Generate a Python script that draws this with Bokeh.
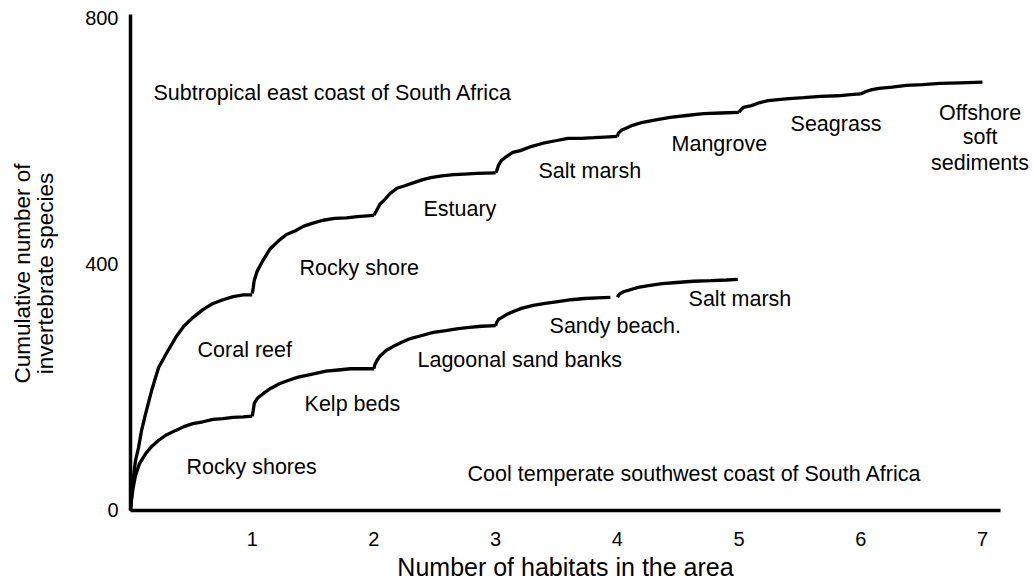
import math
from bokeh.plotting import figure
from bokeh.models import ColumnDataSource, Range1d, FixedTicker
from bokeh.core.properties import value
from bokeh.embed import file_html
from bokeh.resources import INLINE

# ---------------- data ----------------
habitat_ticks = [1, 2, 3, 4, 5, 6, 7]
species_ticks = [0, 400, 800]

x_title = "Number of habitats in the area"
y_title = ["Cumulative number of", "invertebrate species"]
east_title = "Subtropical east coast of South Africa"
west_title = "Cool temperate southwest coast of South Africa"
east_habitats = ["Coral reef", "Rocky shore", "Estuary", "Salt marsh",
                 "Mangrove", "Seagrass", "Offshore soft sediments"]
west_habitats = ["Rocky shores", "Kelp beds", "Lagoonal sand banks",
                 "Sandy beach.", "Salt marsh"]

# cumulative species curves, one list per added habitat
east_x = [
    [0, 0.008, 0.021, 0.041, 0.066, 0.091, 0.124, 0.174, 0.231, 0.298, 0.372,
     0.438, 0.512, 0.595, 0.678, 0.76, 0.843, 0.926, 1.0],
    [1.0, 1.008, 1.016, 1.04, 1.089, 1.145, 1.218, 1.282, 1.355, 1.419, 1.492,
     1.581, 1.677, 1.774, 1.863, 2.0],
    [2.0, 2.025, 2.049, 2.082, 2.131, 2.189, 2.254, 2.328, 2.402, 2.467, 2.557,
     2.656, 2.746, 2.844, 3.0],
    [3.0, 3.008, 3.023, 3.047, 3.086, 3.141, 3.203, 3.297, 3.391, 3.492, 3.594,
     3.703, 3.805, 3.898, 4.0],
    [4.0, 4.008, 4.033, 4.067, 4.125, 4.208, 4.317, 4.433, 4.567, 4.708, 4.85,
     5.0],
    [5.0, 5.009, 5.034, 5.103, 5.171, 5.239, 5.385, 5.53, 5.667, 5.812, 5.915,
     6.0],
    [6.0, 6.042, 6.092, 6.15, 6.258, 6.375, 6.508, 6.65, 6.817, 7.0],
]
east_y = [
    [0, 21, 49, 81, 102, 130, 157, 195, 232, 256, 281, 299, 313, 326, 336,
     342, 347, 350, 350],
    [352, 361, 373, 388, 406, 424, 438, 448, 454, 461, 466, 471, 474, 475,
     477, 479],
    [479, 488, 497, 503, 514, 523, 527, 532, 537, 540, 543, 545, 546, 547,
     548],
    [548, 551, 560, 568, 574, 581, 584, 591, 596, 600, 604, 604, 605, 606,
     607],
    [607, 612, 617, 620, 625, 630, 634, 638, 641, 644, 645, 646],
    [646, 649, 654, 657, 662, 665, 668, 670, 672, 673, 675, 676],
    [676, 680, 683, 685, 687, 690, 691, 693, 694, 695],
]
west_x = [
    [0, 0.008, 0.021, 0.041, 0.074, 0.124, 0.174, 0.231, 0.298, 0.372, 0.438,
     0.512, 0.595, 0.678, 0.76, 0.843, 0.926, 1.0],
    [1.0, 1.008, 1.017, 1.042, 1.092, 1.151, 1.227, 1.294, 1.37, 1.437, 1.513,
     1.605, 1.706, 1.807, 1.899, 2.0],
    [2.0, 2.008, 2.024, 2.047, 2.102, 2.157, 2.228, 2.299, 2.394, 2.488, 2.591,
     2.693, 2.787, 2.882, 3.0],
    [3.0, 3.008, 3.024, 3.049, 3.089, 3.146, 3.211, 3.309, 3.407, 3.512,
     3.618, 3.732, 3.837, 3.943],
    [4.0, 4.017, 4.051, 4.085, 4.171, 4.256, 4.368, 4.487, 4.624, 4.769,
     4.897, 4.99],
]
west_y = [
    [0, 16, 36, 57, 76, 92, 104, 114, 123, 130, 136, 141, 144, 148, 149, 151,
     152, 153],
    [153, 162, 174, 182, 190, 198, 206, 211, 216, 219, 222, 226, 228, 230,
     230, 230],
    [230, 237, 243, 250, 260, 266, 273, 279, 284, 289, 292, 295, 297, 299,
     300],
    [300, 305, 310, 313, 318, 323, 328, 333, 336, 339, 342, 344, 345, 346],
    [346, 351, 355, 357, 362, 365, 368, 370, 372, 373, 374, 375],
]

# ---------------- figure ----------------
FONT = "Liberation Sans"
p = figure(width=1034, height=584, output_backend="svg", toolbar_location=None,
           x_range=Range1d(-1.0681, 7.4273), y_range=Range1d(-120.1, 827.6),
           min_border_left=0, min_border_right=0, min_border_top=0,
           min_border_bottom=0)
p.outline_line_color = None
p.grid.visible = False
p.background_fill_color = "white"
p.border_fill_color = "white"

for ax in (p.xaxis[0], p.yaxis[0]):
    ax.fixed_location = 0
    ax.axis_line_width = 3.5
    ax.axis_line_color = "black"
    ax.major_tick_line_color = None
    ax.minor_tick_line_color = None
    ax.major_label_text_font = FONT
    ax.major_label_text_font_size = "20px"
    ax.major_label_text_color = "black"

p.xaxis[0].ticker = FixedTicker(ticks=habitat_ticks)
p.xaxis[0].bounds = (0, 7.15)
p.xaxis[0].major_label_standoff = 16
p.yaxis[0].ticker = FixedTicker(ticks=species_ticks)
p.yaxis[0].bounds = (0, 805)
p.yaxis[0].major_label_standoff = 6

p.multi_line(xs=east_x, ys=east_y, line_color="black", line_width=3.3)
p.multi_line(xs=west_x, ys=west_y, line_color="black", line_width=3.3)

# axis titles (positions in data units, outside the axes)
p.text(x=[3.574], y=[-92.5], text=[x_title], text_font=value(FONT),
       text_font_size="25px", text_align="center", text_baseline="middle",
       text_color="black")
p.text(x=[-0.887, -0.698], y=[384.6, 384.6], text=y_title, angle=math.pi / 2,
       text_font=value(FONT), text_font_size="22.5px", text_align="center",
       text_baseline="middle", text_color="black")

# habitat / coast labels (layout positions in data units)
offshore = east_habitats[6].split(" ")
offshore_lines = [offshore[0], offshore[1], " ".join(offshore[2:])]
left_src = ColumnDataSource(dict(
    text=[east_title, east_habitats[0], east_habitats[1], east_habitats[2],
          east_habitats[3], east_habitats[4], east_habitats[5],
          west_habitats[0], west_habitats[1], west_habitats[2],
          west_habitats[3], west_habitats[4], west_title],
    x=[0.189, 0.551, 1.389, 2.407, 3.352, 4.445, 5.423,
       0.46, 1.43, 2.358, 3.443, 4.585, 2.769],
    y=[676.7, 261, 392.7, 490, 551.7, 595.5, 626.4,
       69.8, 172, 245, 300, 344, 60],
))
p.text(x="x", y="y", text="text", source=left_src, text_font=value(FONT),
       text_font_size="21.5px", text_align="left", text_baseline="middle",
       text_color="black")

center_src = ColumnDataSource(dict(
    text=offshore_lines, x=[6.98] * 3, y=[645.8, 605.3, 564.7]))
p.text(x="x", y="y", text="text", source=center_src, text_font=value(FONT),
       text_font_size="21.5px", text_align="center", text_baseline="middle",
       text_color="black")

open("out.html", "w").write(file_html(p, INLINE))
